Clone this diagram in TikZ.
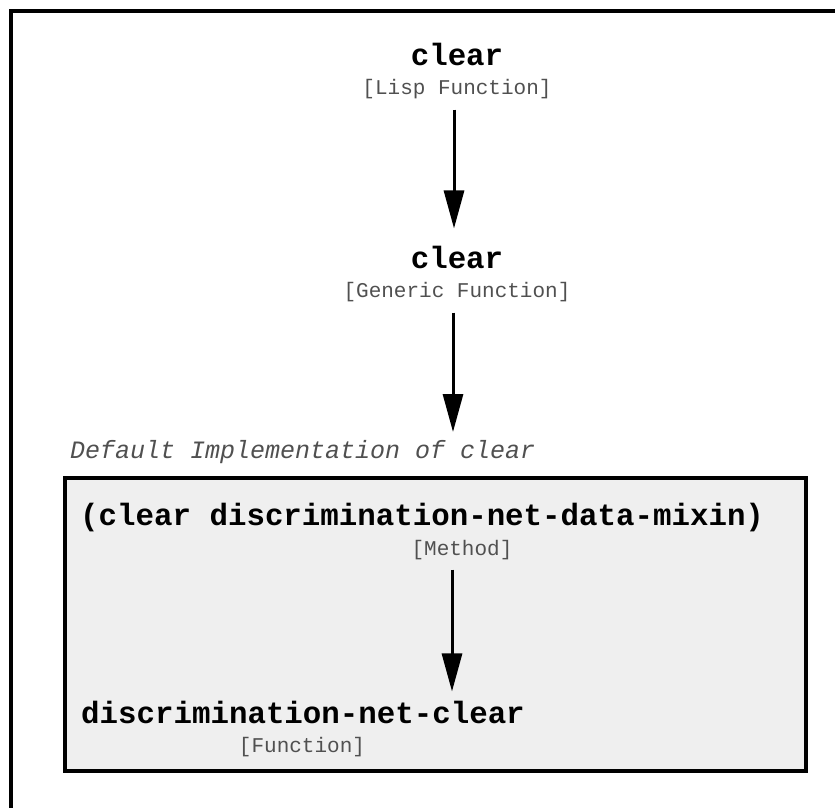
\documentclass[tikz,border=0pt]{standalone}
\usepackage{fontspec}
\setmonofont{Liberation Mono}
\usetikzlibrary{arrows.meta,calc}
\definecolor{panelgray}{HTML}{EFEFEF}
\definecolor{labelgray}{HTML}{505050}
\tikzset{
  title/.style={font=\ttfamily\bfseries\fontsize{30.8}{34}\selectfont, inner sep=0pt, anchor=base},
  kind/.style={font=\ttfamily\fontsize{21}{24}\selectfont, text=labelgray, inner sep=0pt, anchor=base},
  caption/.style={font=\ttfamily\itshape\fontsize{25}{28}\selectfont, text=labelgray, inner sep=0pt, anchor=base west},
  call/.style={line width=3pt, -{Triangle[length=38pt,width=20pt]}},
  frame/.style={line width=4pt},
  panel/.style={line width=4pt, fill=panelgray, draw, inner sep=0pt, minimum width=741pt, minimum height=293pt}
}
\begin{document}
\begin{tikzpicture}[x=1pt,y=-1pt]
\useasboundingbox (0,0) rectangle (835,808);
% outer frame, running off the right and bottom edges
\draw[frame] (11,900) -- (11,11) -- (900,11);
% panel holding the default implementation
\node[panel] (impl) at (435.5,624.5) {};

\node[title] (clearA) at (457,66) {clear};
\node[kind] (lisp) at (457,94) {[Lisp Function]};

\node[title] (clearB) at (457,268) {clear};
\node[kind] (generic) at (457,297) {[Generic Function]};

\node[caption] (caption) at (70,458) {Default Implementation of clear};

\node[title, anchor=base west] (method) at (80,525) {(clear discrimination-net-data-mixin)};
\node[kind] (methodkind) at (462,555) {[Method]};

\node[title, anchor=base west] (dnc) at (81,723) {discrimination-net-clear};
\node[kind] (fnkind) at (302,752) {[Function]};

% columns the call arrows run down
\coordinate (colA) at (454,0);
\coordinate (colB) at (453,0);
\coordinate (colC) at (452,0);

\draw[call, shorten <=11pt, shorten >=17pt] (lisp.south -| colA) -- (clearB.north -| colA);
\draw[call, shorten <=11pt, shorten >=44pt] (generic.south -| colB) -- (impl.north -| colB);
\draw[call, shorten <=10pt, shorten >=9pt] (methodkind.south -| colC) -- (dnc.north -| colC);
\end{tikzpicture}
\end{document}
